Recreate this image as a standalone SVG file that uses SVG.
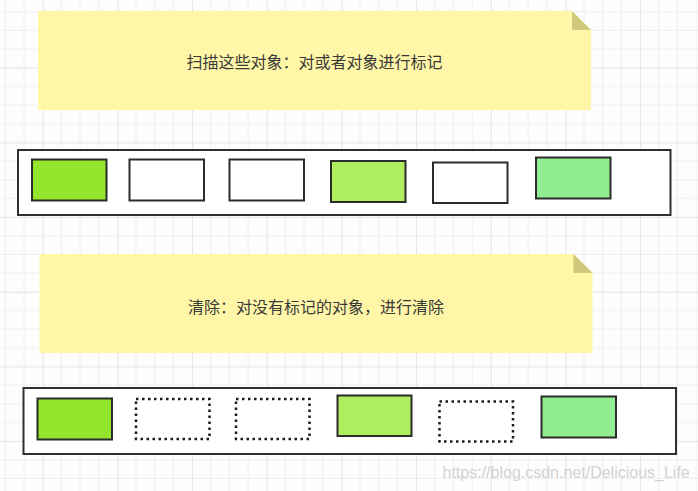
<svg xmlns="http://www.w3.org/2000/svg" width="698" height="491" viewBox="0 0 698 491">
  <defs>
    <pattern id="grid" patternUnits="userSpaceOnUse" x="42.7" y="67.7" width="74.68" height="74.68">
      <path d="M18.67 0V74.68M37.34 0V74.68M56.01 0V74.68M0 18.67H74.68M0 37.34H74.68M0 56.01H74.68" stroke="#efefef" stroke-width="1" fill="none"/>
      <path d="M0.5 0V74.68M0 0.5H74.68" stroke="#e3e3e3" stroke-width="1" fill="none"/>
    </pattern>
  </defs>
  <style>
    .note { fill: #fff7a7; }
    .fold { fill: #d0c87a; }
    .label { font-family: "Noto Sans CJK SC", "Liberation Sans", sans-serif; font-size: 16px; fill: #3a3a3a; text-anchor: middle; dominant-baseline: central; }
    .container { fill: #ffffff; stroke: #2f2f2f; stroke-width: 2; }
    .obj { stroke: #2b2b2b; stroke-width: 2; }
    .g1 { fill: #94e62c; }
    .g2 { fill: #aeee5f; }
    .g3 { fill: #90ee90; }
    .empty { fill: #ffffff; }
    .dotted { fill: #ffffff; stroke: #1a1a1a; stroke-width: 2.5; stroke-dasharray: 2.5 3.5; }
    .wm { font-family: "Liberation Sans", Arial, sans-serif; font-size: 16px; fill: #d2d2d2; }
  </style>
  <rect width="698" height="491" fill="#fdfdfd"/>
  <rect width="698" height="491" fill="url(#grid)"/>

  <g id="note-mark">
    <path class="note" d="M38 11H572L591 30V110H38Z"/>
    <path class="fold" d="M572 11L591 30H572Z"/>
    <text class="label" x="314.5" y="61">扫描这些对象：对或者对象进行标记</text>
  </g>

  <g id="heap-mark">
    <rect class="container" x="18" y="150" width="652.5" height="65"/>
    <rect id="m1" class="obj g1" x="32" y="159.5" width="74.5" height="41"/>
    <rect id="m2" class="obj empty" x="129.5" y="159.5" width="74.5" height="41"/>
    <rect id="m3" class="obj empty" x="229.5" y="159.5" width="74.5" height="41"/>
    <rect id="m4" class="obj g2" x="331" y="161" width="74.5" height="41"/>
    <rect id="m5" class="obj empty" x="433" y="162.5" width="74.5" height="40.5"/>
    <rect id="m6" class="obj g3" x="536" y="157.5" width="74.5" height="41"/>
  </g>

  <g id="note-sweep">
    <path class="note" d="M39.5 254H573.5L592.5 273V353H39.5Z"/>
    <path class="fold" d="M573.5 254L592.5 273H573.5Z"/>
    <text class="label" x="316" y="306">清除：对没有标记的对象，进行清除</text>
  </g>

  <g id="heap-sweep">
    <rect class="container" x="23.5" y="388" width="652.5" height="66"/>
    <rect id="s1" class="obj g1" x="37.5" y="398.5" width="74.5" height="41"/>
    <rect id="s2" class="dotted" x="136" y="399" width="73.5" height="40"/>
    <rect id="s3" class="dotted" x="236" y="399" width="73.5" height="40"/>
    <rect id="s4" class="obj g2" x="337.5" y="395.5" width="74" height="40.5"/>
    <rect id="s5" class="dotted" x="439.5" y="401.5" width="73.5" height="40"/>
    <rect id="s6" class="obj g3" x="541.5" y="396.5" width="74.5" height="41"/>
  </g>

  <g id="connectors"/>

  <text class="wm" x="442.5" y="478">https://blog.csdn.net/Delicious_Life</text>
</svg>
